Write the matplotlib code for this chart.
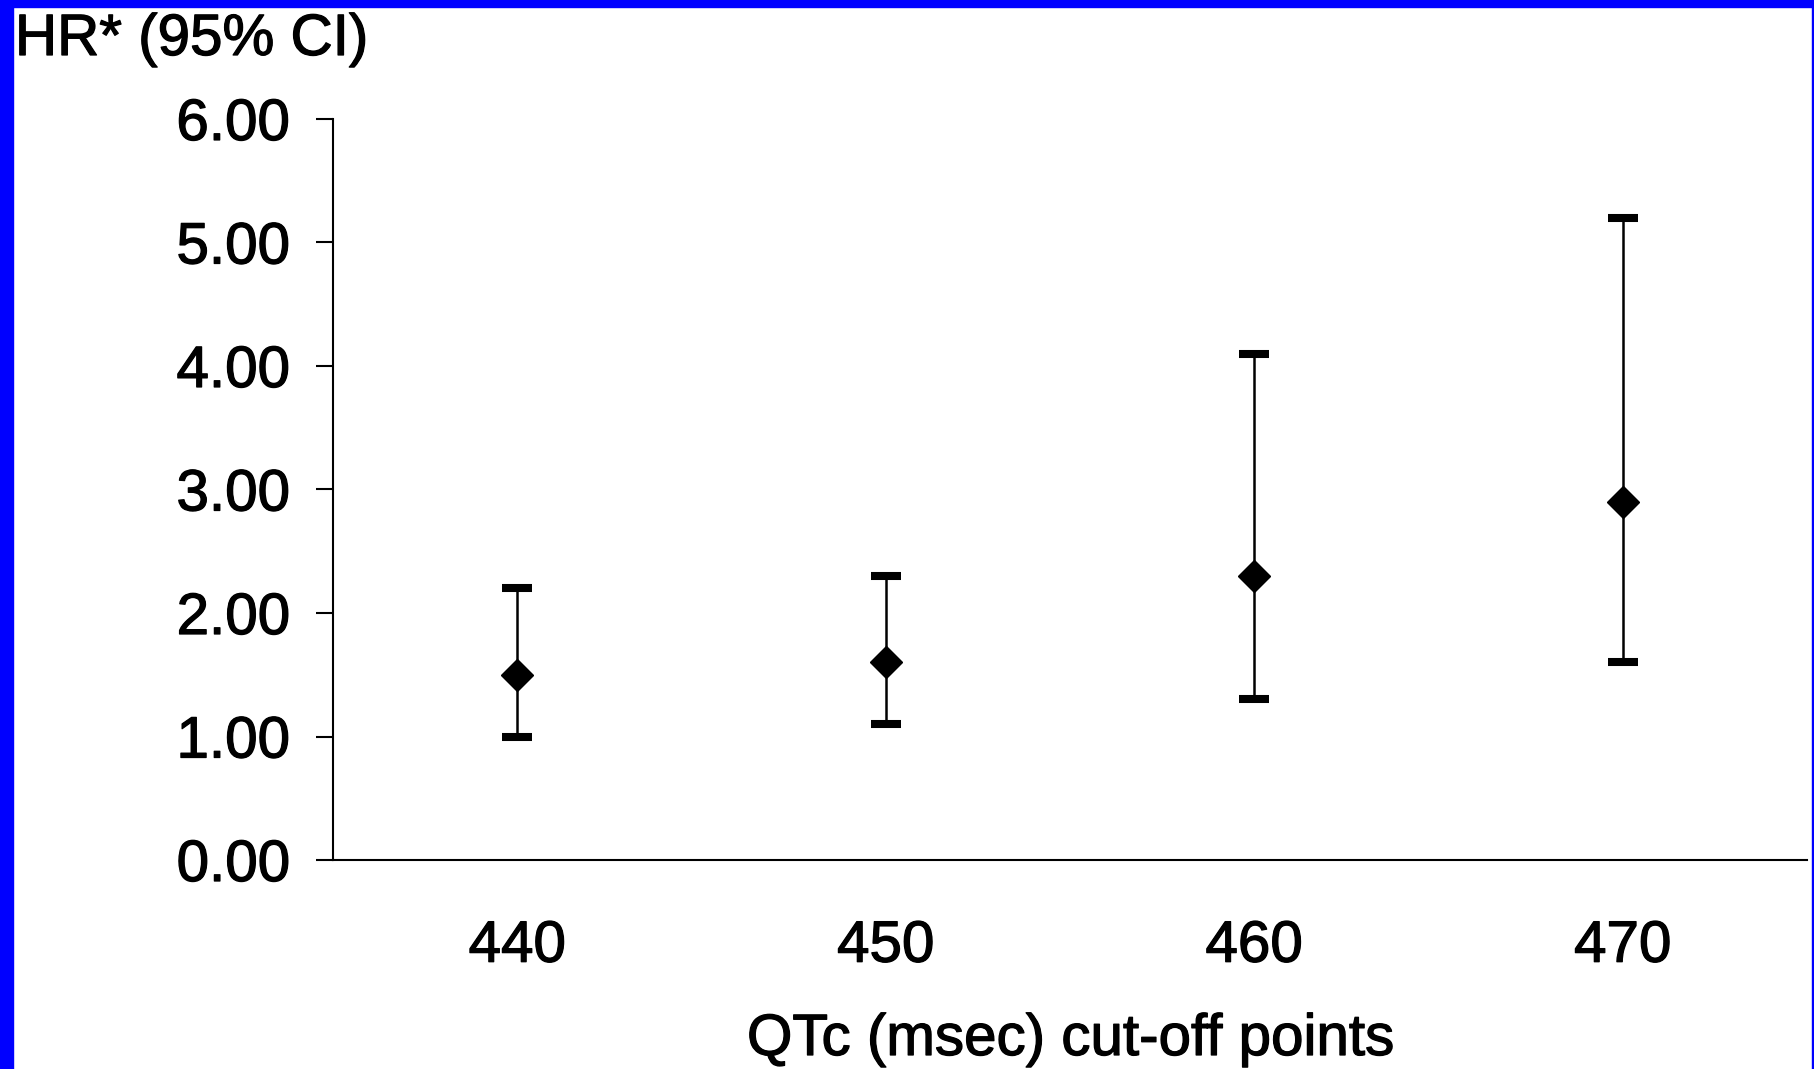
# hazard ratios with 95% CI by QTc cut-off point
import matplotlib
matplotlib.use("Agg")
import matplotlib.pyplot as plt
import matplotlib.patheffects as pe
from matplotlib.patches import Rectangle

cutoffs = ["440", "450", "460", "470"]
hr = [1.5, 1.6, 2.3, 2.9]
ci_low = [1.0, 1.1, 1.3, 1.6]
ci_high = [2.2, 2.3, 4.1, 5.2]
yticks = [0, 1, 2, 3, 4, 5, 6]

plt.rcParams["font.family"] = ["Liberation Sans", "DejaVu Sans"]
# scanned print looks a bit heavier than plain text
heavy = [pe.withStroke(linewidth=0.9, foreground="black")]

fig = plt.figure(figsize=(18.14, 10.69), dpi=100)
ax = fig.add_axes([0.1836, 0.1955, 0.8125, 0.6932])

x = list(range(len(cutoffs)))
err_low = [h - l for h, l in zip(hr, ci_low)]
err_high = [u - h for h, u in zip(hr, ci_high)]
ax.errorbar(x, hr, yerr=[err_low, err_high], fmt="D", color="black",
            markersize=16, elinewidth=1.8, capsize=10.8, capthick=5.8)

ax.set_xlim(-0.5, 3.5)
ax.set_ylim(0, 6)
ax.set_xticks(x)
ax.set_xticklabels(cutoffs)
ax.set_yticks(yticks)
ax.set_yticklabels(["{:.2f}".format(v) for v in yticks])
ax.tick_params(axis="x", length=0, pad=43, labelsize=42)
ax.tick_params(axis="y", length=12, width=1.5, pad=19, labelsize=42)
for lab in ax.get_xticklabels() + ax.get_yticklabels():
    lab.set_path_effects(heavy)
for s in ["top", "right"]:
    ax.spines[s].set_visible(False)
for s in ["left", "bottom"]:
    ax.spines[s].set_linewidth(1.5)

fig.text(15 / 1814, 1 - 55 / 1069, "HR* (95% CI)", fontsize=42,
         ha="left", va="baseline", path_effects=heavy)
fig.text(1071 / 1814, 1 - 1055 / 1069, "QTc (msec) cut-off points",
         fontsize=42, ha="center", va="baseline", path_effects=heavy)

# blue frame round the picture
blue = (0, 0, 1)
fig.patches.append(Rectangle((0, 0), 13 / 1814, 1, transform=fig.transFigure,
                             color=blue, zorder=10))
fig.patches.append(Rectangle((0, 1 - 7 / 1069), 1, 7 / 1069,
                             transform=fig.transFigure, color=blue, zorder=10))
fig.patches.append(Rectangle((1 - 2 / 1814, 0), 2 / 1814, 1,
                             transform=fig.transFigure, color=blue, zorder=10))

fig.savefig("out.png", dpi=100)
